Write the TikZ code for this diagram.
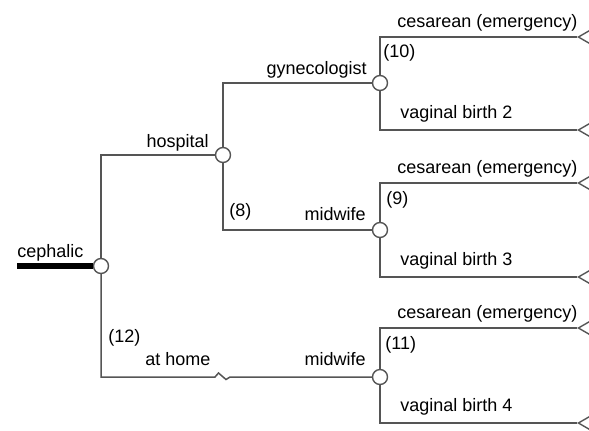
\documentclass[tikz,border=0pt]{standalone}
\usepackage{fontspec}
\setmainfont{Liberation Sans}
\usepackage{xcolor}
\usetikzlibrary{shapes.geometric}

\definecolor{linegray}{HTML}{555555}

\begin{document}
\begin{tikzpicture}[x=0.5pt, y=-0.5pt,
    chance/.style={draw=linegray, circle, fill=white, inner sep=0pt, minimum size=7.5pt, line width=0.7pt},
    endnode/.style={draw=linegray, isosceles triangle, isosceles triangle apex angle=60,
                    shape border rotate=180, anchor=apex, inner sep=0pt,
                    minimum width=30pt, minimum height=30pt, line width=0.7pt},
    branch/.style={draw=linegray, line width=0.75pt},
    lbl/.style={inner sep=0pt, font=\fontsize{9}{11}\selectfont}]
              \useasboundingbox (0,0) rectangle (589,430);

              % chance nodes
              \draw (101,266) node[chance]                  (root) {};
              \draw (223,155) node[chance]                  (hosp) {};
              \draw (380,83) node[chance]                   (gyn) {};
              \draw (380,230) node[chance]                  (midhosp) {};
              \draw (380,377) node[chance]                  (midhome) {};

              % terminal nodes
              \draw (577,37) node[endnode]                  (t1) {};
              \draw (577,130) node[endnode]                 (t2) {};
              \draw (577,183) node[endnode]                 (t3) {};
              \draw (577,277) node[endnode]                 (t4) {};
              \draw (577,328) node[endnode]                 (t5) {};
              \draw (577,423) node[endnode]                 (t6) {};

              \coordinate (start) at (17,266);
              \coordinate (brk) at (215,377);

              \draw[line width=3pt] (start) -- (root);
              \draw[branch] (root) |- (hosp);
              \draw[branch] (root) |- (brk) -- ++(3.5,-4) -- ++(7.5,6.5) -- ++(4,-2.5) -- (midhome);
              \draw[branch] (hosp) |- (gyn);
              \draw[branch] (hosp) |- (midhosp);
              \draw[branch] (gyn) |- (t1);
              \draw[branch] (gyn) |- (t2);
              \draw[branch] (midhosp) |- (t3);
              \draw[branch] (midhosp) |- (t4);
              \draw[branch] (midhome) |- (t5);
              \draw[branch] (midhome) |- (t6);

              % labels
              \draw (17,257) node[lbl, anchor=base west]    (lcephalic) {cephalic};
              \draw (209,147) node[lbl, anchor=base east]   (lhosp) {hospital};
              \draw (367,74) node[lbl, anchor=base east]    (lgyn) {gynecologist};
              \draw (229,216) node[lbl, anchor=base west]   (n8) {(8)};
              \draw (366,220) node[lbl, anchor=base east]   (lmidhosp) {midwife};
              \draw (108,342) node[lbl, anchor=base west]   (n12) {(12)};
              \draw (145,365) node[lbl, anchor=base west]   (lhome) {at home};
              \draw (366,365) node[lbl, anchor=base east]   (lmidhome) {midwife};

              \draw (397,27) node[lbl, anchor=base west]    (lt1) {cesarean (emergency)};
              \draw (383,57) node[lbl, anchor=base west]    (n10) {(10)};
              \draw (400,118) node[lbl, anchor=base west]   (lt2) {vaginal birth 2};
              \draw (397,173) node[lbl, anchor=base west]   (lt3) {cesarean (emergency)};
              \draw (386,204) node[lbl, anchor=base west]   (n9) {(9)};
              \draw (400,265) node[lbl, anchor=base west]   (lt4) {vaginal birth 3};
              \draw (397,318) node[lbl, anchor=base west]   (lt5) {cesarean (emergency)};
              \draw (385,349) node[lbl, anchor=base west]   (n11) {(11)};
              \draw (400,411) node[lbl, anchor=base west]   (lt6) {vaginal birth 4};
              \end{tikzpicture}
\end{document}
